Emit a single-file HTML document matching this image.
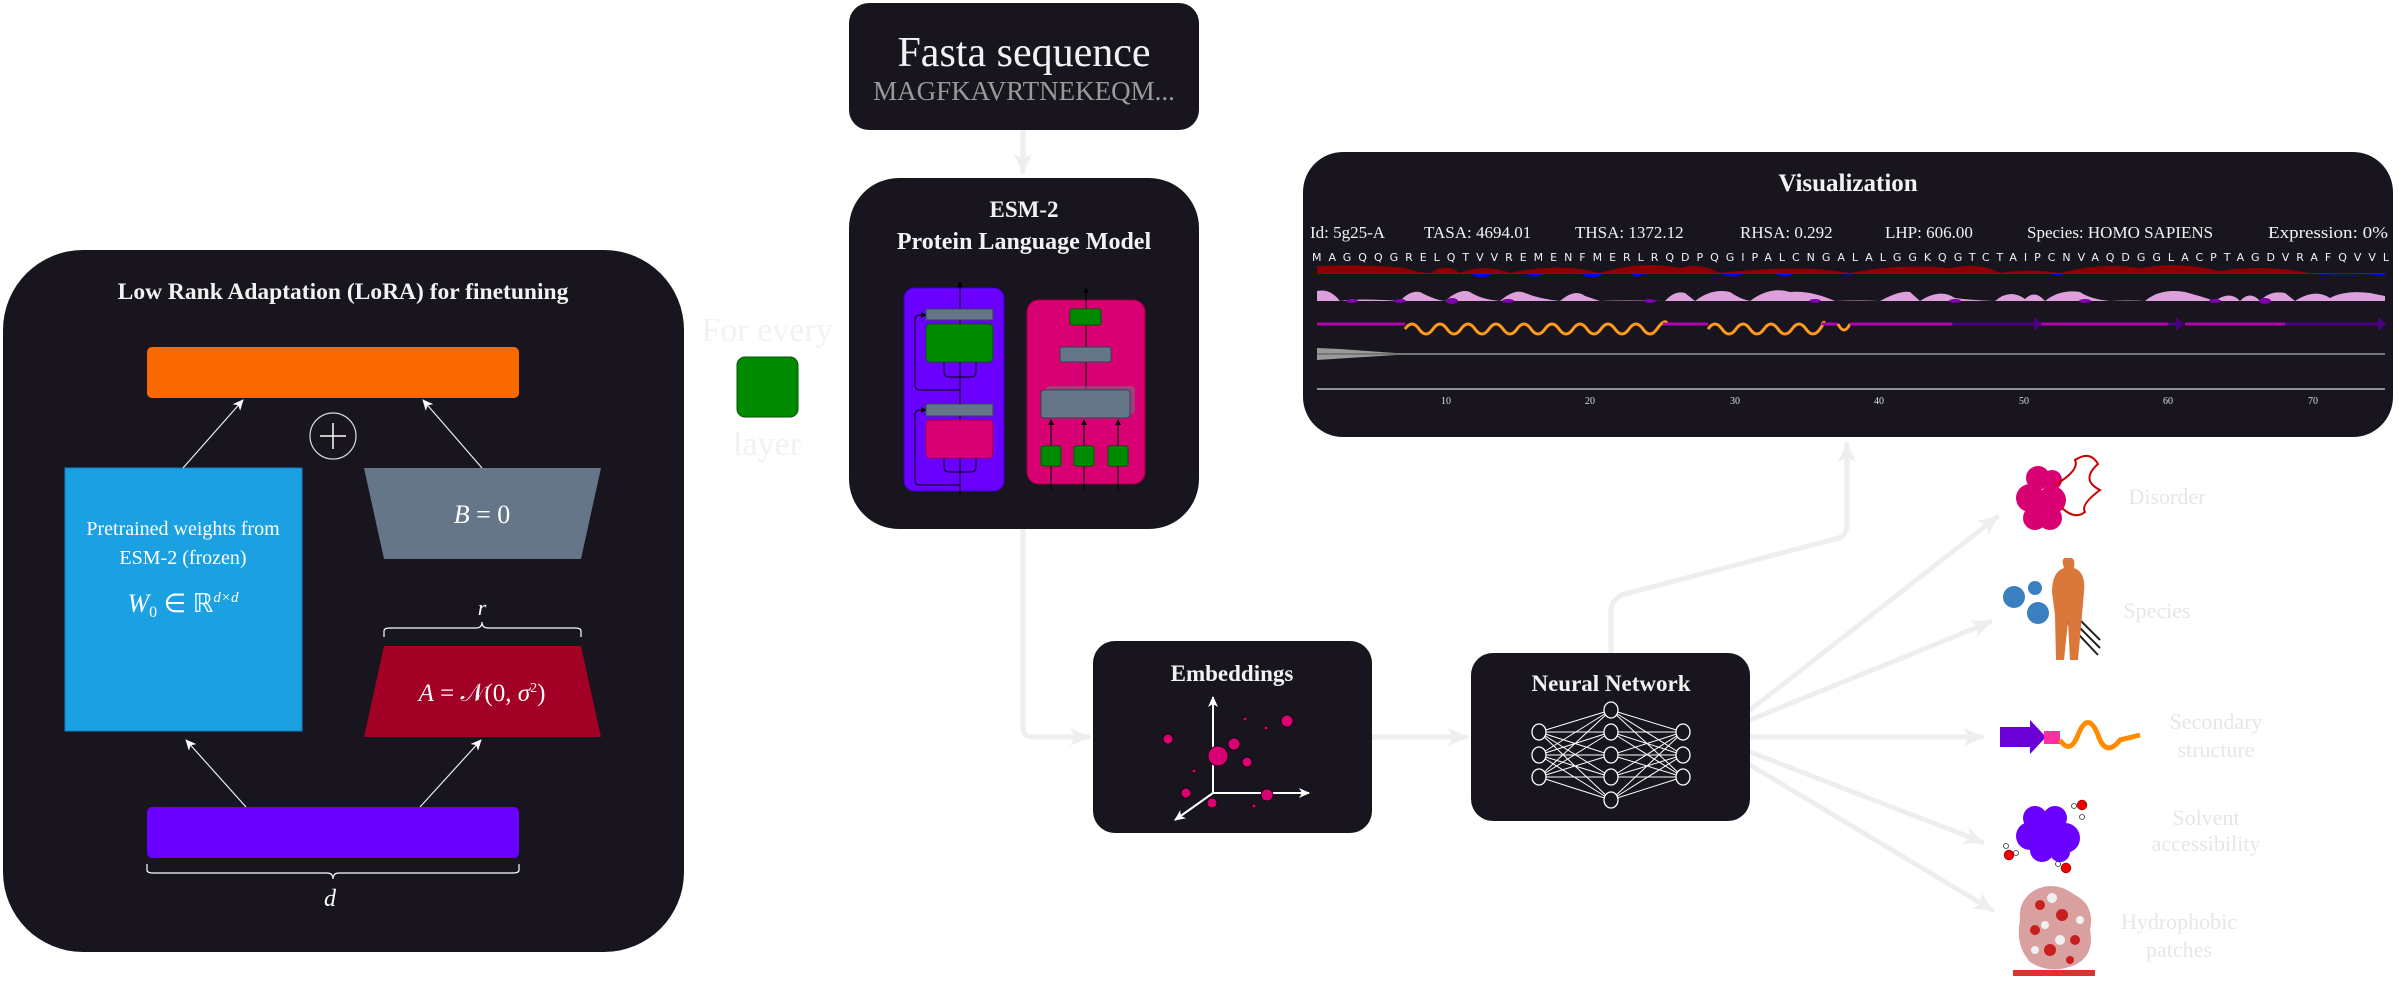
<!DOCTYPE html>
<html><head><meta charset="utf-8"><style>
html,body{margin:0;padding:0;background:#fff;}
svg{display:block;}
text{font-family:"Liberation Serif",serif;}
</style></head><body>
<svg width="2399" height="981" viewBox="0 0 2399 981" xmlns="http://www.w3.org/2000/svg">
<defs>
<marker id="ah" markerWidth="10" markerHeight="10" refX="8" refY="5" orient="auto" markerUnits="userSpaceOnUse"><path d="M0,0 L10,5 L0,10 L3,5 Z" fill="#eeeeee"/></marker>
<marker id="aw" markerWidth="12" markerHeight="12" refX="10" refY="6" orient="auto" markerUnits="userSpaceOnUse"><path d="M0,1 L11,6 L0,11 L3,6 Z" fill="#ffffff"/></marker>
<marker id="bigA" markerWidth="22" markerHeight="22" refX="18" refY="11" orient="auto" markerUnits="userSpaceOnUse"><path d="M0,2 L20,11 L0,20 L5,11 Z" fill="#eeeeee"/></marker>
<marker id="sa" markerWidth="6" markerHeight="6" refX="5" refY="3" orient="auto" markerUnits="userSpaceOnUse"><path d="M0,0 L6,3 L0,6 Z" fill="#000"/></marker>
</defs>

<!-- connectors -->
<g stroke="#eeeeee" stroke-width="5" fill="none" stroke-linecap="round">
<line x1="1023" y1="130" x2="1023" y2="172" marker-end="url(#bigA)"/>
<path d="M1023 529 L1023 728 Q1023 737 1032 737 L1088 737" marker-end="url(#bigA)"/>
<line x1="1372" y1="737" x2="1466" y2="737" marker-end="url(#bigA)"/>
<path d="M1611 653 L1611 612 Q1611 601 1621 595 L1839 538 Q1847 534 1847 524 L1847 444" marker-end="url(#bigA)"/>
<line x1="1750" y1="710" x2="1997" y2="517" marker-end="url(#bigA)"/>
<line x1="1750" y1="720" x2="1990" y2="622" marker-end="url(#bigA)"/>
<line x1="1750" y1="737" x2="1982" y2="737" marker-end="url(#bigA)"/>
<line x1="1750" y1="752" x2="1982" y2="842" marker-end="url(#bigA)"/>
<line x1="1750" y1="765" x2="1992" y2="910" marker-end="url(#bigA)"/>
</g>

<!-- LoRA box -->
<rect x="3" y="250" width="681" height="702" rx="80" fill="#18151e"/>
<text x="343" y="299" text-anchor="middle" font-size="23.5" font-weight="bold" fill="#f2f2f2">Low Rank Adaptation (LoRA) for finetuning</text>
<rect x="147" y="347" width="372" height="51" rx="5" fill="#fa6800"/>
<circle cx="333" cy="436" r="23" fill="none" stroke="#ddd" stroke-width="1.2"/>
<line x1="320" y1="436" x2="346" y2="436" stroke="#fff" stroke-width="1.5"/>
<line x1="333" y1="423" x2="333" y2="449" stroke="#fff" stroke-width="1.5"/>
<rect x="65" y="468" width="237" height="263" fill="#1ba1e2" stroke="#1080c0"/>
<text x="183" y="535" text-anchor="middle" font-size="20" fill="#fff">Pretrained weights from</text>
<text x="183" y="564" text-anchor="middle" font-size="20" fill="#fff">ESM-2 (frozen)</text>
<text x="183" y="612" text-anchor="middle" font-size="26" fill="#fff"><tspan font-style="italic">W</tspan><tspan font-size="16" dy="5">0</tspan><tspan dy="-5"> ∈ ℝ</tspan><tspan font-size="15" font-style="italic" dy="-10">d×d</tspan></text>
<polygon points="364,468 601,468 581,559 384,559" fill="#647687"/>
<text x="482" y="523" text-anchor="middle" font-size="26" fill="#fff"><tspan font-style="italic">B</tspan> = 0</text>
<polygon points="384,646 581,646 601,737 364,737" fill="#a20025"/>
<text x="482" y="701" text-anchor="middle" font-size="25" fill="#fff"><tspan font-style="italic">A</tspan> = 𝒩(0, <tspan font-style="italic">σ</tspan><tspan font-size="14" dy="-9">2</tspan><tspan dy="9">)</tspan></text>
<path d="M384 637 L384 631 Q384 628 390 628 L476 628 Q482 628 482 622 Q482 628 488 628 L575 628 Q581 628 581 631 L581 637" fill="none" stroke="#fff" stroke-width="1.2"/>
<text x="482" y="615" text-anchor="middle" font-size="22" font-style="italic" fill="#fff">r</text>
<rect x="147" y="807" width="372" height="51" rx="5" fill="#6a00ff"/>
<path d="M147 864 L147 870 Q147 873 153 873 L327 873 Q333 873 333 879 Q333 873 339 873 L513 873 Q519 873 519 870 L519 864" fill="none" stroke="#fff" stroke-width="1.2"/>
<text x="330" y="906" text-anchor="middle" font-size="24" font-style="italic" fill="#fff">d</text>
<g stroke="#eee" stroke-width="1.2" fill="none">
<line x1="183" y1="468" x2="243" y2="400" marker-end="url(#aw)"/>
<line x1="482" y1="468" x2="423" y2="400" marker-end="url(#aw)"/>
<line x1="246" y1="807" x2="186" y2="740" marker-end="url(#aw)"/>
<line x1="420" y1="807" x2="481" y2="740" marker-end="url(#aw)"/>
</g>

<!-- For every layer -->
<text x="767" y="341" text-anchor="middle" font-size="34" fill="#f2f2f2">For every</text>
<rect x="737" y="357" width="61" height="60" rx="8" fill="#008a00" stroke="#005700"/>
<text x="767" y="455" text-anchor="middle" font-size="34" fill="#f2f2f2">layer</text>

<!-- Fasta -->
<rect x="849" y="3" width="350" height="127" rx="20" fill="#18151e"/>
<text x="1024" y="66" text-anchor="middle" font-size="42" fill="#f2f2f2">Fasta sequence</text>
<text x="1024" y="100" text-anchor="middle" font-size="27" fill="#9a9a9a">MAGFKAVRTNEKEQM...</text>

<!-- ESM -->
<rect x="849" y="178" width="350" height="351" rx="50" fill="#18151e"/>
<text x="1024" y="217" text-anchor="middle" font-size="23" font-weight="bold" fill="#f2f2f2">ESM-2</text>
<text x="1024" y="249" text-anchor="middle" font-size="24" font-weight="bold" fill="#f2f2f2">Protein Language Model</text>
<rect x="904" y="288" width="100" height="203" rx="10" fill="#6a00ff" stroke="#3700cc"/>
<g stroke="#000" stroke-width="1" fill="none">
<line x1="960" y1="495" x2="960" y2="282" marker-end="url(#sa)"/>
<path d="M960 390 L920 390 Q915 390 915 385 L915 320 Q915 315 920 315 L926 315" marker-end="url(#sa)"/>
<path d="M960 485 L920 485 Q915 485 915 480 L915 415 Q915 410 920 410 L926 410" marker-end="url(#sa)"/>
<path d="M944 362 L944 372 Q944 377 950 377 L970 377 Q976 377 976 372 L976 362"/>
<path d="M944 458 L944 467 Q944 472 950 472 L970 472 Q976 472 976 467 L976 458"/>
</g>
<rect x="926" y="309" width="67" height="11" fill="#647687" stroke="#314354"/>
<rect x="926" y="324" width="67" height="38" rx="4" fill="#008a00" stroke="#005700"/>
<rect x="926" y="404" width="67" height="12" fill="#647687" stroke="#314354"/>
<rect x="926" y="420" width="67" height="38" rx="4" fill="#d80073" stroke="#a50040"/>
<rect x="1027" y="300" width="118" height="184" rx="12" fill="#d80073" stroke="#a50040"/>
<g stroke="#000" stroke-width="1">
<line x1="1086" y1="390" x2="1086" y2="288" marker-end="url(#sa)"/>
<line x1="1051" y1="490" x2="1051" y2="420" marker-end="url(#sa)"/>
<line x1="1084" y1="490" x2="1084" y2="420" marker-end="url(#sa)"/>
<line x1="1118" y1="490" x2="1118" y2="420" marker-end="url(#sa)"/>
</g>
<rect x="1070" y="309" width="31" height="16" rx="2" fill="#008a00" stroke="#005700"/>
<rect x="1060" y="347" width="51" height="15" rx="2" fill="#647687" stroke="#314354"/>
<rect x="1046" y="386" width="89" height="28" rx="3" fill="#7a6a80" opacity="0.6"/>
<rect x="1041" y="390" width="89" height="28" rx="3" fill="#647687" stroke="#314354"/>
<rect x="1041" y="446" width="20" height="20" rx="2" fill="#008a00" stroke="#005700"/>
<rect x="1074" y="446" width="20" height="20" rx="2" fill="#008a00" stroke="#005700"/>
<rect x="1108" y="446" width="20" height="20" rx="2" fill="#008a00" stroke="#005700"/>

<!-- Embeddings -->
<rect x="1093" y="641" width="279" height="192" rx="22" fill="#18151e"/>
<text x="1232" y="681" text-anchor="middle" font-size="23" font-weight="bold" fill="#f2f2f2">Embeddings</text>
<g stroke="#fff" stroke-width="2" fill="none">
<line x1="1213" y1="793" x2="1213" y2="697" marker-end="url(#aw)"/>
<line x1="1213" y1="793" x2="1309" y2="793" marker-end="url(#aw)"/>
<line x1="1213" y1="793" x2="1175" y2="820" marker-end="url(#aw)"/>
</g>
<g fill="#d80073" stroke="#000" stroke-width="0.8">
<circle cx="1218" cy="756" r="10"/><circle cx="1168" cy="739" r="5"/><circle cx="1287" cy="721" r="6"/>
<circle cx="1245" cy="719" r="2"/><circle cx="1266" cy="728" r="2"/><circle cx="1234" cy="744" r="6"/>
<circle cx="1247" cy="762" r="5"/><circle cx="1194" cy="771" r="2"/><circle cx="1186" cy="793" r="5"/>
<circle cx="1267" cy="795" r="6"/><circle cx="1212" cy="803" r="5"/><circle cx="1254" cy="806" r="2"/>
</g>

<!-- Neural network -->
<rect x="1471" y="653" width="279" height="168" rx="22" fill="#18151e"/>
<text x="1611" y="691" text-anchor="middle" font-size="23" font-weight="bold" fill="#f2f2f2">Neural Network</text>
<g stroke="#fff" stroke-width="1">
<path d="M1539 732 L1611 710 M1539 732 L1611 732 M1539 732 L1611 755 M1539 732 L1611 777 M1539 732 L1611 800
M1539 755 L1611 710 M1539 755 L1611 732 M1539 755 L1611 755 M1539 755 L1611 777 M1539 755 L1611 800
M1539 777 L1611 710 M1539 777 L1611 732 M1539 777 L1611 755 M1539 777 L1611 777 M1539 777 L1611 800
M1683 732 L1611 710 M1683 732 L1611 732 M1683 732 L1611 755 M1683 732 L1611 777 M1683 732 L1611 800
M1683 755 L1611 710 M1683 755 L1611 732 M1683 755 L1611 755 M1683 755 L1611 777 M1683 755 L1611 800
M1683 777 L1611 710 M1683 777 L1611 732 M1683 777 L1611 755 M1683 777 L1611 777 M1683 777 L1611 800"/>
</g>
<g fill="#18151e" stroke="#fff" stroke-width="1.3">
<ellipse cx="1539" cy="732" rx="7" ry="8"/><ellipse cx="1539" cy="755" rx="7" ry="8"/><ellipse cx="1539" cy="777" rx="7" ry="8"/>
<ellipse cx="1611" cy="710" rx="7" ry="8"/><ellipse cx="1611" cy="732" rx="7" ry="8"/><ellipse cx="1611" cy="755" rx="7" ry="8"/><ellipse cx="1611" cy="777" rx="7" ry="8"/><ellipse cx="1611" cy="800" rx="7" ry="8"/>
<ellipse cx="1683" cy="732" rx="7" ry="8"/><ellipse cx="1683" cy="755" rx="7" ry="8"/><ellipse cx="1683" cy="777" rx="7" ry="8"/>
</g>

<!-- Visualization -->
<rect x="1303" y="152" width="1090" height="285" rx="40" fill="#18151e"/>
<text x="1848" y="191" text-anchor="middle" font-size="25" font-weight="bold" fill="#f2f2f2">Visualization</text>
<g font-size="17" fill="#f2f2f2">
<text x="1310" y="238">Id: 5g25-A</text>
<text x="1424" y="238">TASA: 4694.01</text>
<text x="1575" y="238">THSA: 1372.12</text>
<text x="1740" y="238">RHSA: 0.292</text>
<text x="1885" y="238">LHP: 606.00</text>
<text x="2027" y="238">Species: HOMO SAPIENS</text>
<text x="2268" y="238" textLength="120" lengthAdjust="spacingAndGlyphs">Expression: 0%</text>
</g>
<text x="1312" y="261" textLength="1077" lengthAdjust="spacing" font-size="11" fill="#f2f2f2" style="font-family:'DejaVu Sans',sans-serif">MAGQQGRELQTVVREMENFMERLRQDPQGIPALCNGALALGGKQGTCTAIPCNVAQDGGLACPTAGDVRAFQVVL</text>
<path d="M1317 273 L1317 266 Q1370 264 1405 268 Q1420 273 1430 273 Q1445 262 1460 273 Q1485 263 1510 273 Q1560 262 1600 273 Q1640 260 1680 268 Q1700 262 1720 273 Q1800 264 1850 273 Q1900 263 1950 268 Q1980 262 2000 273 Q2030 268 2060 273 Q2100 262 2140 268 Q2180 261 2220 271 Q2260 264 2310 273 L1317 273 Z" fill="#8b0000"/>
<path d="M1470 273 Q1482 282 1494 273 Z M1525 273 Q1535 280 1545 273 Z M1580 273 Q1592 282 1605 273 Z M1630 273 Q1637 280 1645 273 Z M1720 273 Q1732 280 1745 273 Z M1775 273 Q1785 280 1795 273 Z M1830 273 L1850 275 L1850 273 Z M2050 273 Q2058 278 2065 273 Z M2310 273 Q2340 279 2385 273 L2385 276 L2310 274 Z" fill="#0000ff"/>
<line x1="1317" y1="273.5" x2="2385" y2="273.5" stroke="#2020c0" stroke-width="1"/>
<path d="M1317 301 L1317 291 Q1330 288 1340 301 Q1360 298 1400 301 Q1410 290 1420 292 Q1435 300 1445 301 Q1460 288 1470 292 Q1480 299 1500 301 Q1515 288 1525 293 Q1540 299 1560 301 Q1575 288 1585 296 L1600 301 Q1625 300 1665 301 Q1675 290 1685 293 L1695 301 Q1712 288 1730 292 Q1740 299 1750 301 Q1770 286 1790 292 Q1810 290 1835 301 Q1860 300 1880 301 Q1900 290 1910 292 L1920 301 Q1940 288 1955 298 Q1970 300 1995 301 Q2010 288 2025 299 Q2035 289 2045 301 Q2060 289 2080 292 Q2090 299 2110 301 Q2130 300 2145 301 Q2160 288 2185 292 Q2200 296 2215 301 Q2230 290 2240 301 Q2250 290 2260 301 Q2270 290 2285 293 L2295 301 Q2315 288 2330 298 Q2345 290 2370 293 L2385 296 L2385 301 Z" fill="#dda0dd"/>
<g fill="#7d00a8"><ellipse cx="1352" cy="301" rx="6" ry="2"/><ellipse cx="1400" cy="301" rx="6" ry="2"/><ellipse cx="1452" cy="301" rx="6" ry="3"/><ellipse cx="1508" cy="301" rx="6" ry="2"/><ellipse cx="1650" cy="301" rx="6" ry="2"/><ellipse cx="1815" cy="301" rx="6" ry="2"/><ellipse cx="1955" cy="301" rx="6" ry="2"/><ellipse cx="2085" cy="301" rx="6" ry="2"/><ellipse cx="2215" cy="301" rx="6" ry="2"/><ellipse cx="2265" cy="301" rx="6" ry="3"/></g>
<g stroke-width="3" fill="none">
<line x1="1317" y1="324" x2="1405" y2="324" stroke="#b300b3"/>
<path d="M1405 329 q7 -10 14 0 t14 0 t14 0 t14 0 t14 0 t14 0 t14 0 t14 0 t14 0 t14 0 t14 0 t14 0 t14 0 t14 0 t14 0 t14 0 t14 0 t14 0 t10 -6" stroke="#ff9a1f"/>
<line x1="1663" y1="324" x2="1708" y2="324" stroke="#b300b3"/>
<path d="M1708 329 q7 -10 14 0 t14 0 t14 0 t14 0 t14 0 t14 0 t14 0 t14 0 t2 -5" stroke="#ff9a1f"/>
<line x1="1822" y1="324" x2="1838" y2="324" stroke="#b300b3"/>
<path d="M1838 324 q6 12 12 0" stroke="#ff9a1f"/>
<line x1="1850" y1="324" x2="1952" y2="324" stroke="#b300b3"/>
<line x1="1952" y1="324" x2="2034" y2="324" stroke="#4b0082"/>
<line x1="2041" y1="324" x2="2168" y2="324" stroke="#b300b3"/>
<line x1="2168" y1="324" x2="2178" y2="324" stroke="#4b0082"/>
<line x1="2185" y1="324" x2="2285" y2="324" stroke="#b300b3"/>
<line x1="2285" y1="324" x2="2378" y2="324" stroke="#4b0082"/>
</g>
<g fill="#4b0082"><path d="M2034 317 L2042 324 L2034 331 Z"/><path d="M2176 317 L2184 324 L2176 331 Z"/><path d="M2378 317 L2386 324 L2378 331 Z"/></g>
<path d="M1317 348 L1340 349 Q1380 352 1412 354 L1317 360 Z" fill="#999"/>
<line x1="1317" y1="354" x2="2385" y2="354" stroke="#777" stroke-width="2"/>
<line x1="1317" y1="389" x2="2385" y2="389" stroke="#bbb" stroke-width="1.5"/>
<g font-size="10" fill="#ddd" text-anchor="middle" style="font-family:'DejaVu Sans',sans-serif">
<text x="1446" y="404">10</text><text x="1590" y="404">20</text><text x="1735" y="404">30</text><text x="1879" y="404">40</text><text x="2024" y="404">50</text><text x="2168" y="404">60</text><text x="2313" y="404">70</text>
</g>

<!-- outputs -->
<g font-size="22" fill="#e6e6e6" text-anchor="middle">
<text x="2167" y="504">Disorder</text>
<text x="2157" y="618">Species</text>
<text x="2216" y="729">Secondary</text>
<text x="2216" y="757">structure</text>
<text x="2206" y="825">Solvent</text>
<text x="2206" y="851">accessibility</text>
<text x="2179" y="929">Hydrophobic</text>
<text x="2179" y="957">patches</text>
</g>
<!-- disorder icon -->
<g fill="#d80073"><circle cx="2038" cy="478" r="12"/><circle cx="2052" cy="480" r="10"/><circle cx="2030" cy="498" r="14"/><circle cx="2052" cy="500" r="14"/><circle cx="2035" cy="518" r="12"/><circle cx="2050" cy="518" r="12"/></g>
<path d="M2055 485 Q2080 470 2075 460 Q2090 450 2098 464 Q2080 480 2100 490 Q2080 505 2085 512 Q2075 520 2062 508" fill="none" stroke="#c00" stroke-width="2"/>
<!-- species icon -->
<g fill="#3a7fc0"><circle cx="2014" cy="597" r="11"/><circle cx="2035" cy="588" r="7"/><circle cx="2038" cy="613" r="11"/></g>
<g stroke="#222" stroke-width="2"><line x1="2060" y1="600" x2="2100" y2="640"/><line x1="2062" y1="610" x2="2100" y2="648"/><line x1="2065" y1="620" x2="2098" y2="655"/></g>
<path d="M2068 558 Q2076 556 2074 568 Q2086 572 2084 592 L2082 615 L2078 660 L2070 660 L2068 622 L2064 660 L2056 660 L2055 615 L2052 592 Q2052 572 2064 568 Q2060 556 2068 558 Z" fill="#d9783a"/>
<!-- secondary icon -->
<rect x="2000" y="727" width="30" height="20" fill="#6a00d6"/>
<path d="M2030 720 L2046 737 L2030 754 Z" fill="#6a00d6"/>
<rect x="2044" y="731" width="16" height="13" fill="#ff2fa0"/>
<path d="M2060 740 Q2070 755 2078 735 Q2088 710 2098 735 Q2106 758 2120 740 L2140 735" fill="none" stroke="#ff8c00" stroke-width="5"/>
<!-- solvent icon -->
<g fill="#6a00ff"><circle cx="2035" cy="818" r="12"/><circle cx="2055" cy="818" r="12"/><circle cx="2030" cy="836" r="14"/><circle cx="2065" cy="838" r="15"/><circle cx="2042" cy="850" r="12"/><circle cx="2060" cy="852" r="10"/><circle cx="2048" cy="835" r="12"/></g>
<g fill="#e00" stroke="#600" stroke-width="0.5"><circle cx="2082" cy="805" r="5"/><circle cx="2009" cy="855" r="5"/><circle cx="2066" cy="868" r="5"/></g>
<g fill="#fff" stroke="#333" stroke-width="0.8"><circle cx="2074" cy="806" r="2.5"/><circle cx="2082" cy="817" r="2.5"/><circle cx="2006" cy="846" r="2.5"/><circle cx="2016" cy="853" r="2.5"/><circle cx="2058" cy="864" r="2.5"/></g>
<!-- hydrophobic icon -->
<path d="M2035 890 Q2055 880 2075 895 Q2095 905 2090 930 Q2095 955 2075 965 Q2050 975 2030 962 Q2015 945 2020 920 Q2018 900 2035 890 Z" fill="#d9a0a0"/>
<g fill="#c81e1e"><circle cx="2040" cy="905" r="5"/><circle cx="2062" cy="915" r="6"/><circle cx="2035" cy="930" r="5"/><circle cx="2075" cy="940" r="5"/><circle cx="2050" cy="950" r="6"/><circle cx="2070" cy="960" r="4"/></g>
<g fill="#f0f0f0"><circle cx="2052" cy="898" r="5"/><circle cx="2045" cy="925" r="4"/><circle cx="2080" cy="920" r="4"/><circle cx="2060" cy="940" r="5"/><circle cx="2035" cy="950" r="4"/></g>
<rect x="2013" y="970" width="82" height="6" fill="#e03030"/>
</svg>
</body></html>
